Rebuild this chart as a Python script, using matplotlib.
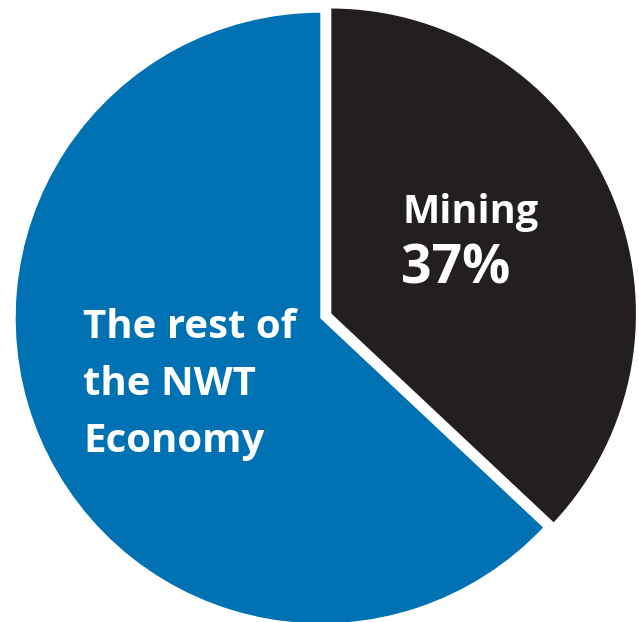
import matplotlib.pyplot as plt

# data
labels = ["Mining", "The rest of the NWT Economy"]
shares = [37, 63]
colors = ["#231f20", "#0071b3"]
explode = [10.5, 0.0]   # pie() takes this in data units (pixels here)

W, H = 639, 622
fig = plt.figure(figsize=(W / 100, H / 100), dpi=100)
ax = fig.add_axes([0, 0, 1, 1])

ax.pie(shares, colors=colors, explode=explode, startangle=90,
       counterclock=False, center=(321, H - 318), radius=306,
       wedgeprops=dict(edgecolor='white', linewidth=1))

# pie() resets the limits, so set them afterwards
ax.set_xlim(0, W)
ax.set_ylim(0, H)
ax.set_aspect('equal')
ax.axis('off')

font = dict(family=['Open Sans', 'DejaVu Sans'], weight='bold', color='white')

ax.text(402, H - 223, labels[0], fontsize=28.5, va='baseline', ha='left', **font)
ax.text(401, H - 284, f"{shares[0]}%", fontsize=38.5, va='baseline', ha='left', **font)

rest_lines = ["The rest of", "the NWT", "Economy"]
for i, line in enumerate(rest_lines):
    ax.text(83, H - (338 + 57 * i), line, fontsize=29, va='baseline', ha='left', **font)

fig.savefig("out.png", dpi=100)
